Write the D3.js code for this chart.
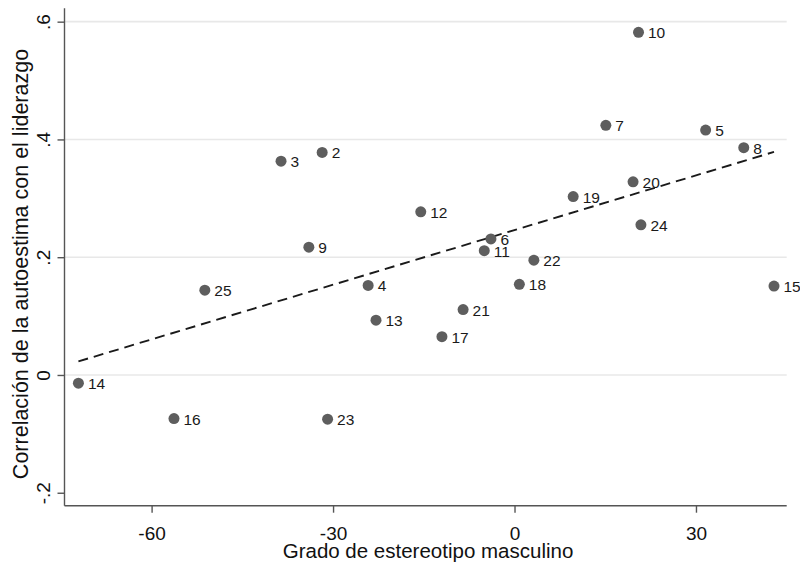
<!DOCTYPE html>
<html>
<head>
<meta charset="utf-8">
<script src="https://cdn.jsdelivr.net/npm/d3@7"></script>
<style>
  body { margin: 0; background: #fff; }
  text { font-family: "Liberation Sans", Arial, sans-serif; }
</style>
</head>
<body>
<div id="chart"></div>
<script>
// datos
var ids = [2, 3, 4, 5, 6, 7, 8, 9, 10, 11, 12, 13, 14, 15, 16, 17, 18, 19, 20, 21, 22, 23, 24, 25];
var estereotipo = [-31.8, -38.6, -24.2, 31.6, -3.9, 15.1, 37.9, -34.0, 20.5, -5.0, -15.5, -22.9,
                   -72.1, 42.9, -56.3, -12.0, 0.8, 9.7, 19.6, -8.5, 3.2, -30.9, 20.9, -51.2];
var correlacion = [0.378, 0.363, 0.152, 0.416, 0.231, 0.424, 0.386, 0.217, 0.582, 0.211, 0.277, 0.093,
                   -0.014, 0.151, -0.074, 0.065, 0.154, 0.303, 0.328, 0.111, 0.195, -0.075, 0.255, 0.144];
var xTicks = [-60, -30, 0, 30];
var xTickLabels = ["-60", "-30", "0", "30"];
var yTicks = [0.6, 0.4, 0.2, 0, -0.2];
var yTickLabels = [".6", ".4", ".2", "0", "-.2"];

var width = 800, height = 563;
var margin = {left: 64.5, right: 13.3, top: 8.3, bottom: 57.3};

var svg = d3.select("#chart").append("svg")
    .attr("width", width)
    .attr("height", height);

svg.append("rect").attr("width", width).attr("height", height).attr("fill", "#fff");

var x = d3.scaleLinear().domain([-74.4, 45]).range([margin.left, width - margin.right]);
var y = d3.scaleLinear().domain([-0.222, 0.6227]).range([height - margin.bottom, margin.top]);

var puntos = ids.map(function(d, i){ return {id: d, x: estereotipo[i], y: correlacion[i]}; });

// lineas de grilla (sin la de -.2)
svg.append("g")
    .selectAll("line")
    .data(yTicks.filter(function(d){ return d > -0.2; }))
    .enter().append("line")
    .attr("x1", margin.left)
    .attr("x2", width - margin.right)
    .attr("y1", function(d){ return y(d); })
    .attr("y2", function(d){ return y(d); })
    .attr("stroke", "#e8e8e8")
    .attr("stroke-width", 1.6);

// recta de ajuste (minimos cuadrados)
var mx = d3.mean(puntos, function(d){ return d.x; });
var my = d3.mean(puntos, function(d){ return d.y; });
var sxy = d3.sum(puntos, function(d){ return (d.x - mx) * (d.y - my); });
var sxx = d3.sum(puntos, function(d){ return (d.x - mx) * (d.x - mx); });
var pendiente = sxy / sxx;
var intercepto = my - pendiente * mx;
var xExt = d3.extent(estereotipo);

svg.append("line")
    .attr("x1", x(xExt[0]))
    .attr("y1", y(intercepto + pendiente * xExt[0]))
    .attr("x2", x(xExt[1]))
    .attr("y2", y(intercepto + pendiente * xExt[1]))
    .attr("stroke", "#1a1a1a")
    .attr("stroke-width", 1.9)
    .attr("stroke-dasharray", "10,6");

// ejes
var axisColor = "#555";

var xAxis = svg.append("g")
    .attr("transform", "translate(0," + (height - margin.bottom) + ")")
    .call(d3.axisBottom(x).tickValues(xTicks).tickSize(7).tickPadding(14)
        .tickFormat(function(d, i){ return xTickLabels[i]; }));

var yAxis = svg.append("g")
    .attr("transform", "translate(" + margin.left + ",0)")
    .call(d3.axisLeft(y).tickValues(yTicks).tickSize(7)
        .tickFormat(function(d, i){ return yTickLabels[i]; }));

[xAxis, yAxis].forEach(function(g){
    g.select(".domain").attr("stroke", axisColor).attr("stroke-width", 1.4)
        .attr("d", g === xAxis
            ? "M" + margin.left + ",0H" + (width - margin.right)
            : "M0," + margin.top + "V" + (height - margin.bottom));
    g.selectAll(".tick line").attr("stroke", axisColor).attr("stroke-width", 1.4);
    g.selectAll(".tick text").attr("fill", "#111").style("font-size", "19px")
        .style("font-family", "'Liberation Sans', Arial, sans-serif");
});

yAxis.selectAll(".tick text")
    .attr("x", null).attr("dy", null)
    .attr("text-anchor", "middle")
    .attr("transform", "translate(-14.5,0) rotate(-90)");

// titulos
svg.append("text")
    .attr("x", 428)
    .attr("y", 558)
    .attr("text-anchor", "middle")
    .attr("fill", "#111")
    .style("font-size", "20.5px")
    .text("Grado de estereotipo masculino");

svg.append("text")
    .attr("transform", "translate(27.5,264) rotate(-90)")
    .attr("text-anchor", "middle")
    .attr("fill", "#111")
    .style("font-size", "21.5px")
    .text("Correlación de la autoestima con el liderazgo");

// puntos y etiquetas
var g = svg.append("g");

g.selectAll("circle")
    .data(puntos)
    .enter().append("circle")
    .attr("cx", function(d){ return x(d.x); })
    .attr("cy", function(d){ return y(d.y); })
    .attr("r", 5.5)
    .attr("fill", "#5e5e5e");

g.selectAll("text")
    .data(puntos)
    .enter().append("text")
    .attr("x", function(d){ return x(d.x) + 9.5; })
    .attr("y", function(d){ return y(d.y) + 6; })
    .attr("fill", "#1a1a1a")
    .style("font-size", "15.5px")
    .text(function(d){ return d.id; });
</script>
</body>
</html>
